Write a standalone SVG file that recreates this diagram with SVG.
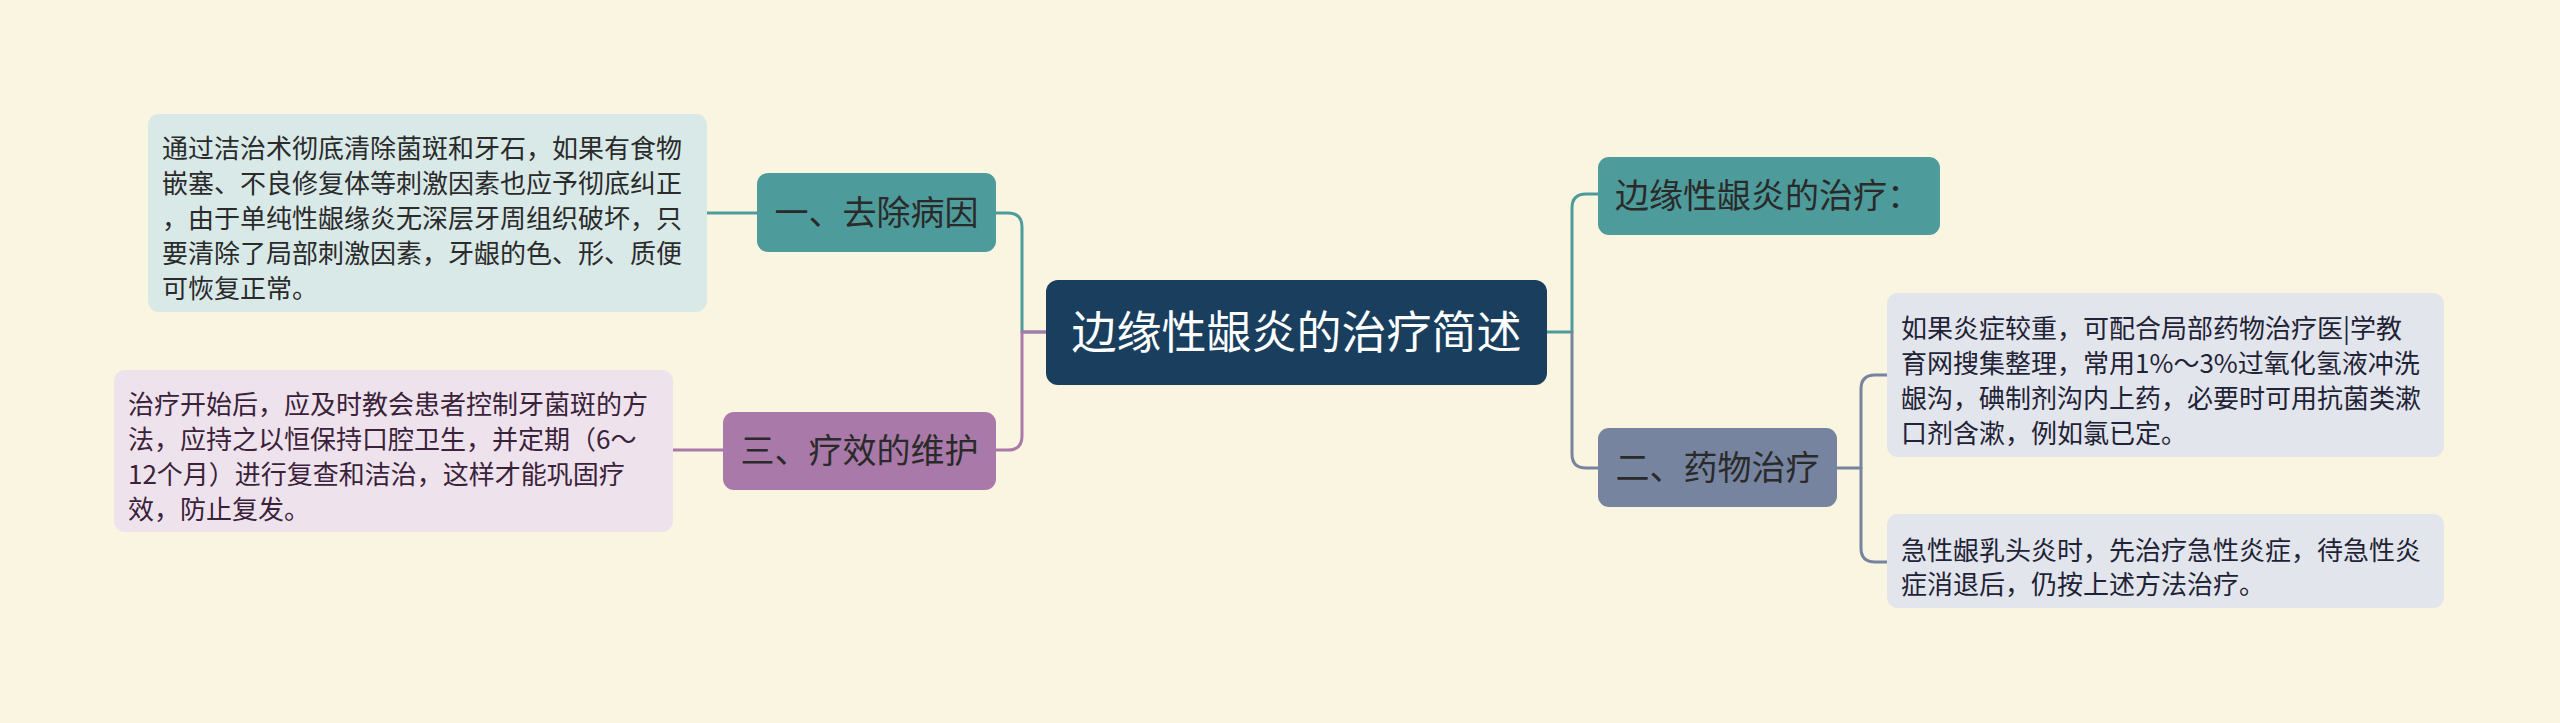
<svg xmlns="http://www.w3.org/2000/svg" width="2560" height="723" viewBox="0 0 2560 723">
<style>
text{font-family:"Noto Sans CJK SC","Noto Sans",sans-serif;}
.sub{font-size:34px;fill:#2a2a2a;}
.leaf{font-size:26px;}
.ln{fill:none;stroke-width:3;stroke-linecap:round;stroke-linejoin:round;}
</style>
<rect width="2560" height="723" fill="#faf5e0"/>
<g id="connectors">
<path class="ln" stroke="#4e9b9b" d="M707,213 H757"/>
<path class="ln" stroke="#4e9b9b" d="M996,213 H1008 Q1022,213 1022,227 V332 H1046"/>
<path class="ln" stroke="#a97aa9" d="M1046,332 H1022 V436 Q1022,450 1008,450 H996"/>
<path class="ln" stroke="#a97aa9" d="M673,450 H723"/>
<path class="ln" stroke="#4e9b9b" d="M1547,332 H1572 V208 Q1572,194 1586,194 H1598"/>
<path class="ln" stroke="#77849f" d="M1572,332 V454 Q1572,468 1586,468 H1598"/>
<path class="ln" stroke="#77849f" d="M1837,468 H1861 V389 Q1861,375 1875,375 H1887"/>
<path class="ln" stroke="#77849f" d="M1861,468 V548 Q1861,562 1875,562 H1887"/>
</g>
<g id="root">
<rect x="1046" y="280" width="501" height="105" rx="12" fill="#193e5e"/>
<text x="1296.5" y="349" font-size="45" fill="#ffffff" text-anchor="middle">边缘性龈炎的治疗简述</text>
</g>
<g id="node-qcby">
<rect x="757" y="173" width="239" height="79" rx="11" fill="#4e9b9b"/>
<text class="sub" x="876.5" y="225" text-anchor="middle">一、去除病因</text>
</g>
<g id="node-lxdwh">
<rect x="723" y="412" width="273" height="78" rx="11" fill="#a97aa9"/>
<text class="sub" x="859.5" y="463" text-anchor="middle">三、疗效的维护</text>
</g>
<g id="node-zl">
<rect x="1598" y="157" width="342" height="78" rx="11" fill="#4e9b9b"/>
<text class="sub" x="1615" y="208">边缘性龈炎的治疗：</text>
</g>
<g id="node-ywzl">
<rect x="1598" y="428" width="239" height="79" rx="11" fill="#77849f"/>
<text class="sub" x="1717.5" y="480" text-anchor="middle">二、药物治疗</text>
</g>
<g id="leaf-1">
<rect x="148" y="114" width="559" height="198" rx="11" fill="#d9e9e8"/>
<text class="leaf" fill="#2b2b2b">
<tspan x="162" y="158">通过洁治术彻底清除菌斑和牙石，如果有食物</tspan>
<tspan x="162" y="193">嵌塞、不良修复体等刺激因素也应予彻底纠正</tspan>
<tspan x="162" y="228">，由于单纯性龈缘炎无深层牙周组织破坏，只</tspan>
<tspan x="162" y="263">要清除了局部刺激因素，牙龈的色、形、质便</tspan>
<tspan x="162" y="298">可恢复正常。</tspan>
</text>
</g>
<g id="leaf-3">
<rect x="114" y="370" width="559" height="162" rx="11" fill="#eee2ed"/>
<text class="leaf" fill="#3a223a">
<tspan x="128" y="414">治疗开始后，应及时教会患者控制牙菌斑的方</tspan>
<tspan x="128" y="449">法，应持之以恒保持口腔卫生，并定期（6～</tspan>
<tspan x="128" y="484">12个月）进行复查和洁治，这样才能巩固疗</tspan>
<tspan x="128" y="519">效，防止复发。</tspan>
</text>
</g>
<g id="leaf-2a">
<rect x="1887" y="293" width="557" height="164" rx="11" fill="#e2e5ec"/>
<text class="leaf" fill="#1f2335">
<tspan x="1901" y="338">如果炎症较重，可配合局部药物治疗医|学教</tspan>
<tspan x="1901" y="373">育网搜集整理，常用1%～3%过氧化氢液冲洗</tspan>
<tspan x="1901" y="408">龈沟，碘制剂沟内上药，必要时可用抗菌类漱</tspan>
<tspan x="1901" y="443">口剂含漱，例如氯已定。</tspan>
</text>
</g>
<g id="leaf-2b">
<rect x="1887" y="514" width="557" height="94" rx="11" fill="#e2e5ec"/>
<text class="leaf" fill="#1f2335">
<tspan x="1901" y="560">急性龈乳头炎时，先治疗急性炎症，待急性炎</tspan>
<tspan x="1901" y="594">症消退后，仍按上述方法治疗。</tspan>
</text>
</g>
</svg>
